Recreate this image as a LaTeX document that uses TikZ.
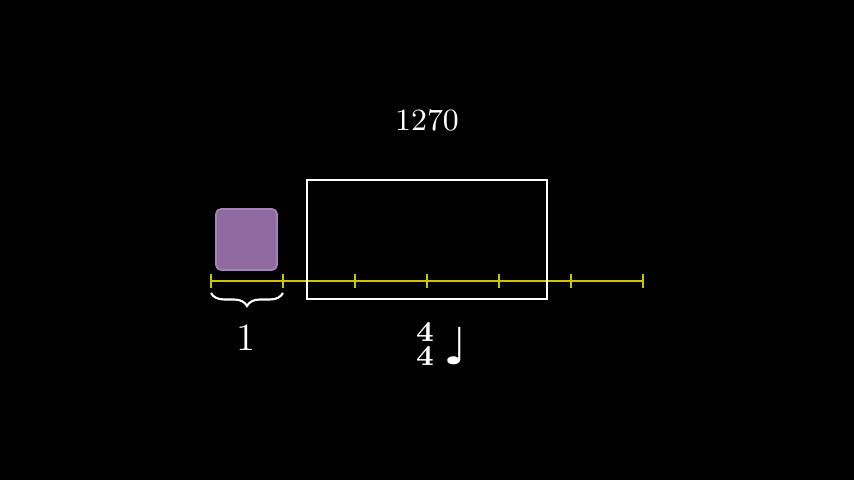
\documentclass[tikz,border=0pt]{standalone}
\usepackage{fontspec}
\usepackage{tikz}
\usetikzlibrary{positioning,decorations.pathreplacing}
\newfontfamily\musicfont{DejaVu Sans}
\definecolor{axisyellow}{RGB}{200,200,0}
\definecolor{boxpurple}{RGB}{142,106,160}
\definecolor{boxedge}{RGB}{165,130,185}

\begin{document}
\begin{tikzpicture}[white]
\fill[black] (0,0) rectangle (8.54,4.80);
\useasboundingbox (0,0) rectangle (8.54,4.80);
% number line with ticks
\coordinate (start) at (2.11,1.99);
\coordinate (stop) at (6.43,1.99);
\draw[axisyellow, line width=0.6pt] (start) -- (stop);
\foreach \i in {0,...,6} {
  \coordinate (t\i) at (2.11+0.72*\i,1.99);
  \draw[axisyellow, line width=0.6pt] ([yshift=-0.07cm]t\i) -- ([yshift=0.07cm]t\i);
}
\node[draw=boxedge, fill=boxpurple, rounded corners=0.05cm, minimum size=0.61cm, inner sep=0pt, line width=0.5pt] (unit) at (2.465,2.405) {};
\node[draw=white, line width=0.8pt, minimum width=2.40cm, minimum height=1.19cm, inner sep=0pt] (bar) at (4.27,2.405) {};
\node[font=\fontsize{8.8}{10}\selectfont] (count) at (4.27,3.60) {1270};
\draw[decorate, decoration={brace, mirror, amplitude=0.13cm}, line width=0.6pt] ([yshift=-0.12cm]t0) -- ([yshift=-0.12cm]t1);
\node[font=\fontsize{11}{12}\selectfont] (one) at (2.46,1.42) {1};
% time signature and note
\node[font=\bfseries\fontsize{8.2}{9}\selectfont, inner sep=0pt] (upper) at (4.25,1.48) {4};
\node[font=\bfseries\fontsize{8.2}{9}\selectfont, inner sep=0pt] (lower) at (4.25,1.235) {4};
\node[font=\musicfont\fontsize{14.5}{15}\selectfont, inner sep=0pt] (note) at (4.56,1.335) {♩};
\end{tikzpicture}
\end{document}
